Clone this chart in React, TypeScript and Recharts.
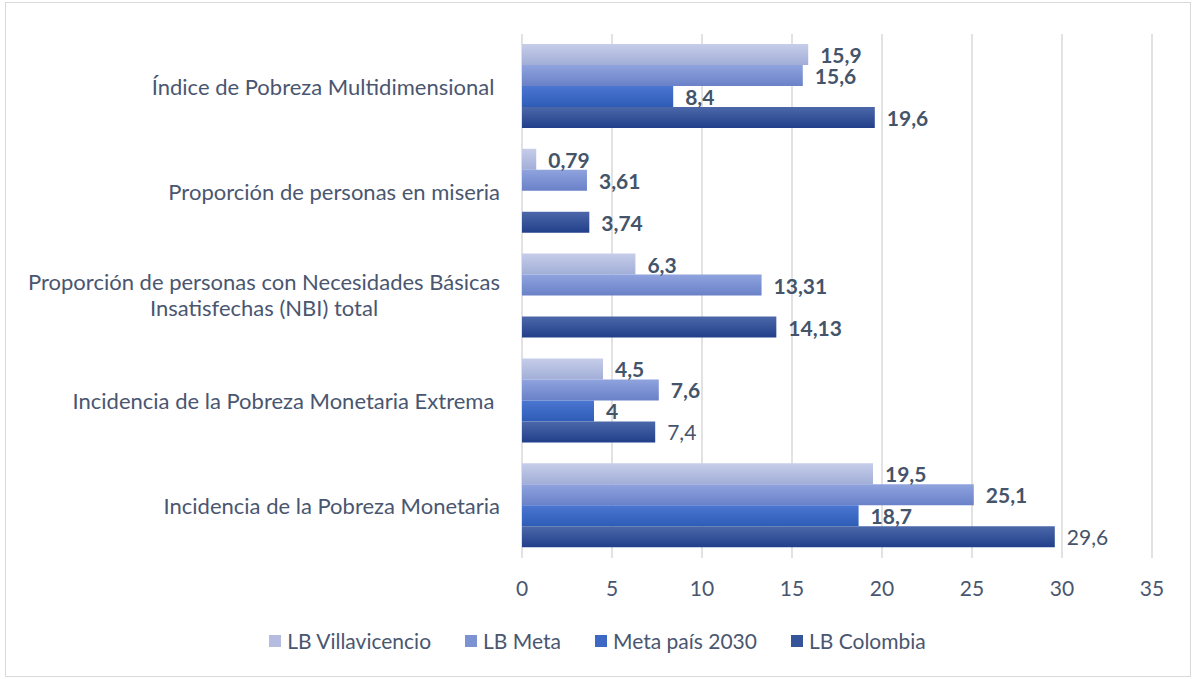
import React from 'react'
import { BarChart, Bar, XAxis, YAxis, CartesianGrid, Legend, LabelList } from 'recharts'

const categories = [
  'Índice de Pobreza Multidimensional ',
  'Proporción de personas en miseria',
  'Proporción de personas con Necesidades Básicas|Insatisfechas (NBI) total',
  'Incidencia de la Pobreza Monetaria Extrema ',
  'Incidencia de la Pobreza Monetaria',
]

const lbVillavicencio = [15.9, 0.79, 6.3, 4.5, 19.5]
const lbMeta = [15.6, 3.61, 13.31, 7.6, 25.1]
const metaPais2030: (number | null)[] = [8.4, null, null, 4, 18.7]
const lbColombia = [19.6, 3.74, 14.13, 7.4, 29.6]
const xTicks = [0, 5, 10, 15, 20, 25, 30, 35]

// LB Colombia labels that are not bold in the original
const plainColombia = [3, 4]

const series = [
  { key: 'villa', name: 'LB Villavicencio', values: lbVillavicencio, top: '#c6cde9', bottom: '#a2aed8', swatch: '#b4bde0' },
  { key: 'meta', name: 'LB Meta', values: lbMeta, top: '#8fa3de', bottom: '#6a81c8', swatch: '#7d92d3' },
  { key: 'pais', name: 'Meta país 2030', values: metaPais2030, top: '#4b76d2', bottom: '#2d5cb6', swatch: '#3d69c4' },
  { key: 'col', name: 'LB Colombia', values: lbColombia, top: '#4c68aa', bottom: '#213f8a', swatch: '#36549a' },
]

const data = categories.map((c, i) => {
  const row: Record<string, string | number | null> = { category: c }
  series.forEach((s) => {
    row[s.key] = s.values[i]
  })
  return row
})

const FONT = 'Lato, "Liberation Sans", sans-serif'
const TEXT = '#4a5670'

const fmt = (v: number) => String(v).replace('.', ',')

const CategoryTick = (props: any) => {
  const { x, y, payload } = props
  const lines: string[] = String(payload.value).split('|')
  if (lines.length === 1) {
    return (
      <text x={x} y={y} textAnchor="end" dominantBaseline="central" fill={TEXT} fontSize={22} fontFamily={FONT} style={{ whiteSpace: 'pre' }}>
        {lines[0]}
      </text>
    )
  }
  return (
    <text x={x - 236} y={y} textAnchor="middle" fill={TEXT} fontSize={22} fontFamily={FONT}>
      {lines.map((l, i) => (
        <tspan key={i} x={x - 236} dy={i === 0 ? '-0.28em' : '1.2em'}>
          {l}
        </tspan>
      ))}
    </text>
  )
}

const makeLabel = (seriesKey: string) => (props: any) => {
  const { x, y, width, height, value, index } = props
  if (value === null || value === undefined) return null
  const plain = seriesKey === 'col' && plainColombia.includes(index)
  return (
    <text
      x={Number(x) + Number(width) + 12}
      y={Number(y) + Number(height) / 2}
      dominantBaseline="central"
      fill="#44546A"
      fontSize={21}
      fontWeight={plain ? 400 : 700}
      fontFamily={FONT}
    >
      {fmt(value)}
    </text>
  )
}

const LegendContent = () => (
  <div style={{ display: 'flex', justifyContent: 'center', gap: 34, fontFamily: FONT, fontSize: 21, color: TEXT }}>
    {series.map((s) => (
      <div key={s.key} style={{ display: 'flex', alignItems: 'center' }}>
        <span style={{ width: 12, height: 12, background: s.swatch, display: 'inline-block', marginRight: 6 }} />
        <span>{s.name}</span>
      </div>
    ))}
  </div>
)

export default function App() {
  return (
    <div style={{ position: 'absolute', left: 0, top: 0, width: 1195, height: 679, background: '#fff' }}>
      <div style={{ position: 'absolute', left: 5, top: 2, width: 1184, height: 673, border: '1px solid #d9d9d9' }} />
      <BarChart
        width={1195}
        height={679}
        data={data}
        layout="vertical"
        margin={{ top: 34, right: 43, left: 0, bottom: 81 }}
        barCategoryGap={10}
        barGap={0}
      >
        <defs>
          {series.map((s) => (
            <linearGradient key={s.key} id={`grad-${s.key}`} x1="0" y1="0" x2="0" y2="1">
              <stop offset="0%" stopColor={s.top} />
              <stop offset="100%" stopColor={s.bottom} />
            </linearGradient>
          ))}
        </defs>
        <CartesianGrid horizontal={false} stroke="#d9d9d9" strokeWidth={1.5} />
        <XAxis
          type="number"
          domain={[0, 35]}
          ticks={xTicks}
          axisLine={false}
          tickLine={false}
          height={40}
          tickMargin={17}
          tick={{ fill: TEXT, fontSize: 21, fontFamily: FONT }}
        />
        <YAxis
          type="category"
          dataKey="category"
          width={522}
          axisLine={false}
          tickLine={false}
          tickMargin={16}
          tick={<CategoryTick />}
          interval={0}
        />
        <Legend verticalAlign="middle" layout="horizontal" wrapperStyle={{ top: 628, left: 0, width: 1195 }} content={<LegendContent />} />
        {series.map((s) => (
          <Bar key={s.key} dataKey={s.key} name={s.name} fill={`url(#grad-${s.key})`} isAnimationActive={false}>
            <LabelList dataKey={s.key} content={makeLabel(s.key)} />
          </Bar>
        ))}
      </BarChart>
    </div>
  )
}
